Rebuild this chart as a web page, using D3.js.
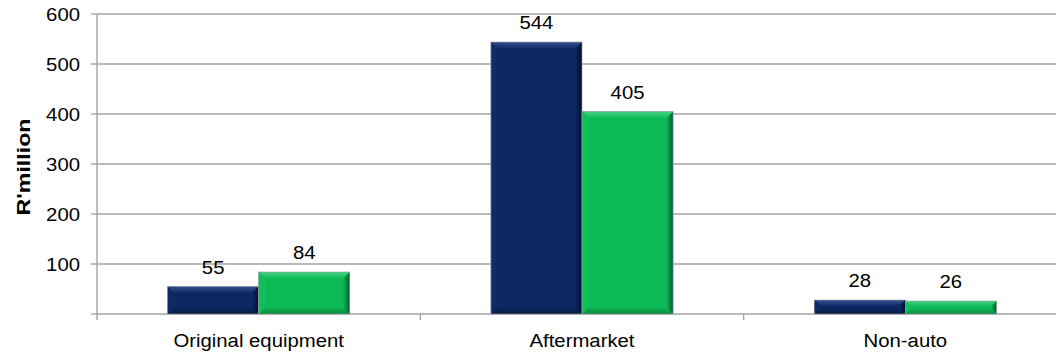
<!DOCTYPE html>
<html><head><meta charset="utf-8">
<script src="https://cdn.jsdelivr.net/npm/d3@7"></script>
<style>
html,body{margin:0;padding:0;background:#fff;}
svg{display:block;font-family:"Liberation Sans",Arial,sans-serif;}
</style></head>
<body>
<svg id="chart" width="1056" height="354"></svg>
<script>
const categories = ["Original equipment", "Aftermarket", "Non-auto"];
const seriesNames = ["Series A", "Series B"];
const seriesA = [55, 544, 28];
const seriesB = [84, 405, 26];
const yTicks = [100, 200, 300, 400, 500, 600];
const yTitle = "R'million";

const svg = d3.select("#chart");
const fontSize = 18, sx = 1.13;
const y = d3.scaleLinear().domain([0, 600]).range([314, 14]);
const x0 = d3.scaleBand().domain(categories).range([97, 1067]).padding(0);
const x1 = d3.scaleBand().domain(seriesNames).range([0, x0.bandwidth()]).paddingInner(0).paddingOuter(0.775);

const grid = "#a3a3a3";
svg.append("g").selectAll("line").data(yTicks.concat([0])).join("line")
  .attr("x1", 97).attr("x2", 1067).attr("y1", d => y(d)).attr("y2", d => y(d))
  .attr("stroke", grid).attr("stroke-width", 1.4);
svg.append("line").attr("x1", 97).attr("x2", 97).attr("y1", y(600)).attr("y2", y(0) + 6)
  .attr("stroke", grid).attr("stroke-width", 1.4);
svg.append("g").selectAll("line").data(yTicks.concat([0])).join("line")
  .attr("x1", 91).attr("x2", 97).attr("y1", d => y(d)).attr("y2", d => y(d))
  .attr("stroke", grid).attr("stroke-width", 1.4);
svg.append("g").selectAll("line").data(categories.slice(1)).join("line")
  .attr("x1", d => x0(d)).attr("x2", d => x0(d)).attr("y1", y(0)).attr("y2", y(0) + 6)
  .attr("stroke", grid).attr("stroke-width", 1.4);

function stext(g, x, yy, txt, anchor, weight) {
  return g.append("text")
    .attr("transform", `translate(${x},${yy}) scale(${sx},1)`)
    .attr("text-anchor", anchor).attr("font-size", fontSize)
    .attr("font-weight", weight || "normal").attr("fill", "#000").text(txt);
}
const tl = svg.append("g");
yTicks.forEach(t => stext(tl, 80, y(t) + 6.5, t, "end"));
svg.append("text").attr("transform", `translate(30,${y(300) + 3}) rotate(-90) scale(1.22,1)`)
  .attr("text-anchor", "middle").attr("font-size", 19).attr("font-weight", "bold").text(yTitle);
const cl = svg.append("g");
categories.forEach(c => stext(cl, x0(c) + x0.bandwidth() / 2, 347, c, "middle"));

const palettes = {
  "Series A": {body: "#0c2864", top: "#33528f", left: "#0e2b68", right: "#020d30", bottom: "#061a45"},
  "Series B": {body: "#0dbb56", top: "#45d184", left: "#10bf5a", right: "#045c2b", bottom: "#088a3f"}
};
const defs = svg.append("defs");
Object.entries(palettes).forEach(([k, p], i) => {
  const gt = defs.append("linearGradient").attr("id", "gt" + i).attr("x1", 0).attr("y1", 0).attr("x2", 0).attr("y2", 1);
  gt.append("stop").attr("offset", 0).attr("stop-color", p.top);
  gt.append("stop").attr("offset", 1).attr("stop-color", p.body);
  const gb = defs.append("linearGradient").attr("id", "gb" + i).attr("x1", 0).attr("y1", 0).attr("x2", 0).attr("y2", 1);
  gb.append("stop").attr("offset", 0).attr("stop-color", p.body);
  gb.append("stop").attr("offset", 1).attr("stop-color", p.bottom);
  const gr = defs.append("linearGradient").attr("id", "gr" + i).attr("x1", 0).attr("y1", 0).attr("x2", 1).attr("y2", 0);
  gr.append("stop").attr("offset", 0).attr("stop-color", p.body);
  gr.append("stop").attr("offset", 1).attr("stop-color", p.right);
  p.idx = i;
});
const bars = [];
categories.forEach((c, i) => {
  bars.push({cat: c, s: "Series A", v: seriesA[i]});
  bars.push({cat: c, s: "Series B", v: seriesB[i]});
});
const bg = svg.append("g");
bars.forEach(d => {
  const xl = x0(d.cat) + x1(d.s), w = x1.bandwidth();
  const yt = y(d.v), yb = y(0), h = yb - yt;
  const b = Math.min(7, h / 2.2);
  const p = palettes[d.s];
  const g = bg.append("g");
  g.append("rect").attr("x", xl).attr("y", yt).attr("width", w).attr("height", h).attr("fill", p.body);
  const poly = (pts, f) => g.append("polygon").attr("points", pts.map(q => q.join(",")).join(" ")).attr("fill", f);
  poly([[xl, yt], [xl + w, yt], [xl + w - b, yt + b], [xl + b, yt + b]], `url(#gt${p.idx})`);
  poly([[xl, yb], [xl + w, yb], [xl + w - b, yb - b], [xl + b, yb - b]], `url(#gb${p.idx})`);
  poly([[xl, yt], [xl + b, yt + b], [xl + b, yb - b], [xl, yb]], p.left);
  poly([[xl + w, yt], [xl + w - b, yt + b], [xl + w - b, yb - b], [xl + w, yb]], `url(#gr${p.idx})`);
  g.append("rect").attr("x", xl).attr("y", yt).attr("width", w).attr("height", h)
    .attr("fill", "none").attr("stroke", "#a0a0a0").attr("stroke-width", 0.6);
});
const vl = svg.append("g");
bars.forEach(d => stext(vl, x0(d.cat) + x1(d.s) + x1.bandwidth() / 2, y(d.v) - 13, d.v, "middle"));
</script>
</body></html>
